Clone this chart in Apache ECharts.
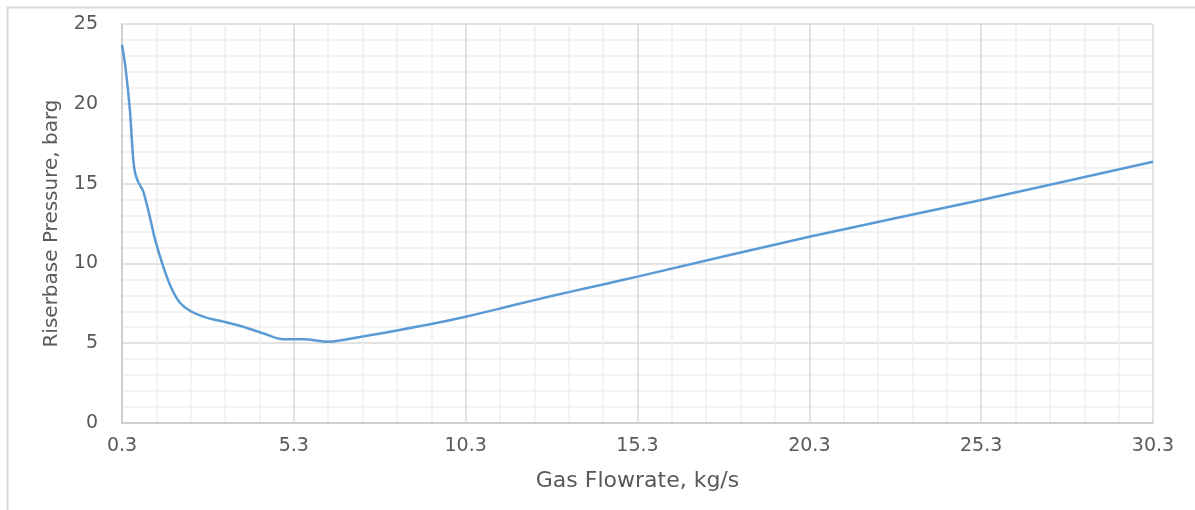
<!DOCTYPE html>
<html>
<head>
<meta charset="utf-8">
<title>Riserbase Pressure vs Gas Flowrate</title>
<script src="https://cdn.jsdelivr.net/npm/echarts@6/dist/echarts.min.js"></script>
<style>
  html, body { margin: 0; padding: 0; background: #ffffff; }
  #chart { width: 1195px; height: 510px; }
</style>
</head>
<body>
<div id="chart"></div>
<script>
// Gas flowrate (kg/s) and the matching riserbase pressure (barg)
const gasFlowrate = [
  0.3, 0.4, 0.53, 0.6, 0.66, 0.75, 0.92, 1.1, 1.25, 1.5, 1.75, 2.0, 2.3, 2.75,
  3.25, 3.8, 4.4, 5.0, 5.6, 6.3, 7.3, 8.3, 9.3, 10.3, 11.3, 12.3, 13.3,
  14.3, 15.3, 20.3, 25.3, 30.3
];
const riserbasePressure = [
  23.7, 22.3, 19.6, 17.3, 15.9, 15.2, 14.5, 13.0, 11.6, 9.8, 8.4, 7.5, 7.0, 6.6,
  6.35, 6.05, 5.62, 5.24, 5.24, 5.09, 5.42, 5.8, 6.2, 6.66, 7.17, 7.7, 8.2,
  8.68, 9.17, 11.67, 13.97, 16.37
];

const xTitle = 'Gas Flowrate, kg/s';
const yTitle = 'Riserbase Pressure, barg';

const points = gasFlowrate.map((x, i) => [x, riserbasePressure[i]]);

const textColor = '#595959';
const fontFamily = '"DejaVu Sans", "Open Sans", sans-serif';

const chart = echarts.init(document.getElementById('chart'), null, { renderer: 'canvas' });

chart.setOption({
  animation: false,
  backgroundColor: '#ffffff',
  graphic: [{
    type: 'rect',
    left: 5,
    top: 5,
    shape: { width: 1400, height: 700 },
    style: { fill: 'none', stroke: '#d9d9d9', lineWidth: 2 },
    silent: true,
    z: -1
  }],
  grid: { left: 122, right: 42, top: 24, bottom: 87, containLabel: false },
  xAxis: {
    type: 'value',
    min: 0.3,
    max: 30.3,
    interval: 5,
    name: xTitle,
    nameLocation: 'middle',
    nameGap: 47,
    nameTextStyle: { color: textColor, fontSize: 22, fontFamily },
    axisLine: { show: true, lineStyle: { color: '#c8c8c8', width: 1.5 } },
    axisTick: { show: false },
    axisLabel: {
      color: textColor, fontSize: 19, fontFamily, margin: 14,
      formatter: v => v.toFixed(1)
    },
    splitLine: { show: true, lineStyle: { color: '#d9d9d9', width: 1.5 } },
    minorTick: { show: false, splitNumber: 5 },
    minorSplitLine: { show: true, lineStyle: { color: '#f0f0f0', width: 1.5 } }
  },
  yAxis: {
    type: 'value',
    min: 0,
    max: 25,
    interval: 5,
    name: yTitle,
    nameLocation: 'middle',
    nameGap: 60,
    nameTextStyle: { color: textColor, fontSize: 20, fontFamily },
    axisLine: { show: true, lineStyle: { color: '#c8c8c8', width: 1.5 } },
    axisTick: { show: false },
    axisLabel: { color: textColor, fontSize: 19, fontFamily, margin: 24 },
    splitLine: { show: true, lineStyle: { color: '#d9d9d9', width: 1.5 } },
    minorTick: { show: false, splitNumber: 5 },
    minorSplitLine: { show: true, lineStyle: { color: '#f0f0f0', width: 1.5 } }
  },
  series: [{
    type: 'line',
    data: points,
    smooth: 0.3,
    showSymbol: false,
    lineStyle: { color: '#5b9bd5', width: 2.5 },
    z: 3
  }]
});
</script>
</body>
</html>
